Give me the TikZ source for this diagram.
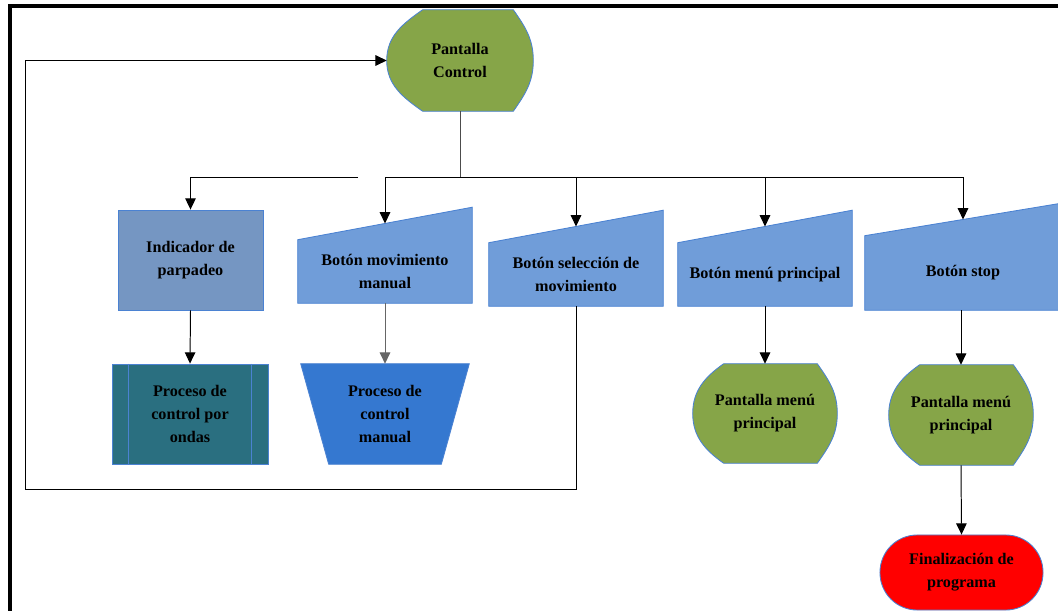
\documentclass[tikz,border=0pt]{standalone}
\usepackage{fontspec}
\setmainfont{Liberation Serif}
\usetikzlibrary{arrows.meta,calc,backgrounds}

\definecolor{screengreen}{RGB}{134,165,72}
\definecolor{inputblue}{RGB}{112,157,217}
\definecolor{indblue}{RGB}{117,150,194}
\definecolor{waveteal}{RGB}{42,111,128}
\definecolor{manualblue}{RGB}{53,120,208}
\definecolor{edgeblue}{RGB}{75,130,210}

\begin{document}
\begin{tikzpicture}[x=0.025cm, y=-0.025cm,
	txt/.style={font=\fontsize{11.5}{16.3}\selectfont\bfseries, align=center, inner sep=0pt},
	screen/.style={fill=screengreen, draw=edgeblue, line width=0.6pt},
	inbutton/.style={fill=inputblue, draw=edgeblue, line width=0.6pt},
	arr/.style={-{Triangle[length=8pt,width=7.5pt]}, line width=0.7pt},
	link/.style={line width=0.7pt},
	]
	\useasboundingbox (0,0) rectangle (1058,611);
	%Frame
	\draw[line width=2.5pt, line join=miter] (10,611) -- (10,6) -- (1058,6);
	%Nodes
	\node[txt, minimum width=3.65cm, minimum height=2.525cm] (pc) at (460,60.5) {Pantalla\\Control};
	%
	\node[txt, rectangle,
	draw = edgeblue, line width=0.6pt,
	fill = indblue, minimum width = 3.625cm, minimum height = 2.5cm] (ind) at (190.5,260) {Indicador de\\parpadeo};
	%
	\node[txt, rectangle,
	draw = edgeblue, line width=0.6pt,
	fill = waveteal, minimum width = 3.9cm, minimum height = 2.5cm] (ondas) at (190,414) {Proceso de\\control por\\ondas};
	%
	\node[txt, minimum width=4.35cm, minimum height=1.575cm] (b2) at (385,271.5) {Botón movimiento\\manual};
	\node[txt, minimum width=4.2cm, minimum height=2.5cm] (man) at (385,414) {Proceso de\\control\\manual};
	%
	\node[txt, minimum width=4.35cm, minimum height=1.575cm] (b3) at (576,274.5) {Botón selección de\\movimiento};
	\node[txt, minimum width=4.35cm, minimum height=1.575cm] (b4) at (765,274.5) {Botón menú principal};
	\node[txt, minimum width=4.9cm, minimum height=1.85cm] (b5) at (963,273) {Botón stop};
	%
	\node[txt, minimum width=3.6cm, minimum height=2.475cm] (pm1) at (765,413.5) {Pantalla menú\\principal};
	\node[txt, minimum width=3.6cm, minimum height=2.5cm] (pm2) at (961,415) {Pantalla menú\\principal};
	%
	\node[txt, rectangle, rounded corners=0.93cm,
	draw = edgeblue, line width=0.6pt,
	fill = red, minimum width = 4.075cm, minimum height = 1.875cm] (fin) at (961.5,572.5) {Finalización de\\programa};
	
	%Shapes behind the texts
	\begin{scope}[on background layer]
	\draw[screen] ($(pc.north west)+(36,0)$) -- ($(pc.north east)+(-20,0)$) to[out=-55,in=90] (pc.east)
		to[out=-90,in=55] ($(pc.south east)+(-20,0)$) -- ($(pc.south west)+(36,0)$)
		to[out=145,in=-90] (pc.west) to[out=90,in=-145] cycle;
	\foreach \s in {pm1,pm2}
		\draw[screen] ($(\s.north west)+(31,0)$) -- ($(\s.north east)+(-20,0)$) to[out=-55,in=90] (\s.east)
			to[out=-90,in=55] ($(\s.south east)+(-20,0)$) -- ($(\s.south west)+(31,0)$)
			to[out=145,in=-90] (\s.west) to[out=90,in=-145] cycle;
	%
	\foreach \b in {b2,b3,b4,b5}
		\draw[inbutton] (\b.south west) -- (\b.south east) -- ($(\b.north east)+(0,-32.5)$) -- (\b.north west) -- cycle;
	%
	\draw[fill=manualblue, draw=edgeblue, line width=0.6pt] (man.north west) -- (man.north east)
		-- ($(man.south east)+(-28,0)$) -- ($(man.south west)+(28,0)$) -- cycle;
	\end{scope}
	\draw[edgeblue, line width=0.5pt] ($(ondas.north west)+(17,0)$) -- ($(ondas.south west)+(17,0)$);
	\draw[edgeblue, line width=0.5pt] ($(ondas.north east)+(-17,0)$) -- ($(ondas.south east)+(-17,0)$);
	
	%Connectors
	\foreach \b in {b2,b3,b4,b5}
		\coordinate (\b-top) at ($(\b.north)+(0,-16.25)$);
	\draw[link, black!70] (pc.south) -- ++(0,66) coordinate (busM);
	\draw[link] (busM -| b2-top) -- (busM -| b5-top);
	\foreach \b in {b2,b3,b4,b5}
		\draw[arr] (busM -| \b-top) -- (\b-top);
	%
	\coordinate (cut) at (358,177);
	\draw[arr] (cut) -| (ind.north);
	\draw[arr] (ind.south) -- (ondas.north);
	\draw[arr, black!60] (b2.south) -- (man.north);
	\draw[arr] (b4.south) -- (pm1.north);
	\draw[arr] (b5.south -| pm2.north) -- (pm2.north);
	\draw[arr] (pm2.south) -- (fin.north);
	%
	\coordinate (loopB) at (25,489);
	\draw[arr] (b3.south) |- (loopB) |- (pc.west);
\end{tikzpicture}
\end{document}
